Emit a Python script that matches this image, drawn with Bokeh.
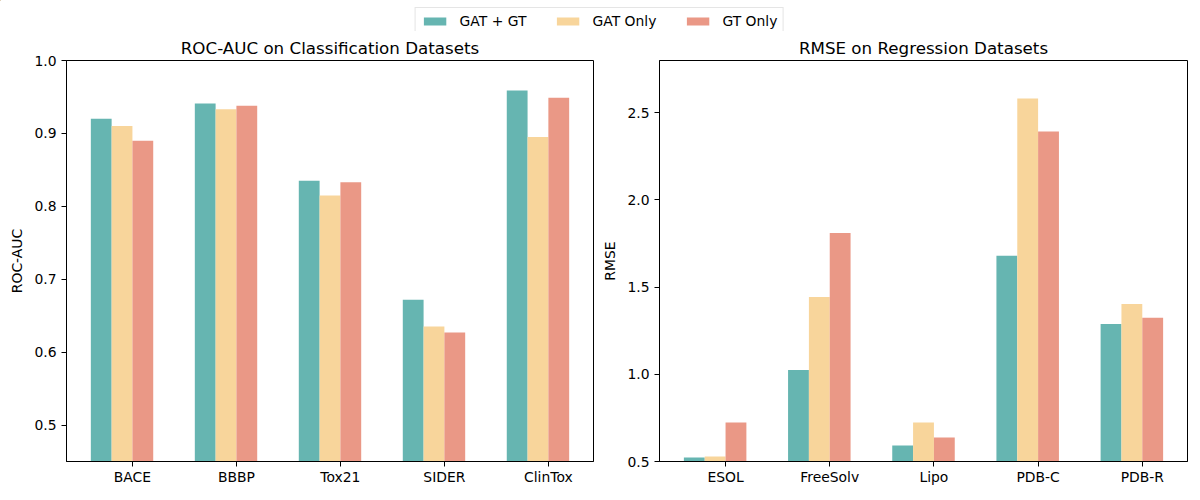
import numpy as np
from bokeh.plotting import figure
from bokeh.models import ColumnDataSource, FixedTicker, Legend, LegendItem, Range1d
from bokeh.layouts import column, row
from bokeh.transform import dodge
from bokeh.embed import file_html
from bokeh.resources import INLINE

# ---- data ----
cls_datasets = ["BACE", "BBBP", "Tox21", "SIDER", "ClinTox"]
cls_gat_gt = [0.920, 0.941, 0.835, 0.672, 0.959]
cls_gat_only = [0.910, 0.933, 0.815, 0.635, 0.895]
cls_gt_only = [0.890, 0.938, 0.833, 0.627, 0.949]

reg_datasets = ["ESOL", "FreeSolv", "Lipo", "PDB-C", "PDB-R"]
reg_gat_gt = [0.523, 1.025, 0.592, 1.680, 1.289]
reg_gat_only = [0.529, 1.444, 0.724, 2.582, 1.404]
reg_gt_only = [0.724, 1.810, 0.638, 2.393, 1.324]

cls_yticks = [0.5, 0.6, 0.7, 0.8, 0.9, 1.0]
reg_yticks = [0.5, 1.0, 1.5, 2.0, 2.5]

series_names = ["GAT + GT", "GAT Only", "GT Only"]
colors = ["#66b5b1", "#f8d59b", "#ea9886"]

FONT = "DejaVu Sans"
BAR_W = 0.2
ROW_H = 461
LEGEND_H = 31


def make_panel(title, cats, s0, s1, s2, ylabel, ylim, yticks, width, mbl, mbr):
    n = len(cats)
    x = np.arange(n)
    src = ColumnDataSource(dict(x=x, s0=s0, s1=s1, s2=s2))
    p = figure(width=width, height=ROW_H, toolbar_location=None, output_backend="svg",
               x_range=Range1d(-0.534, n - 1 + 0.534), y_range=Range1d(*ylim),
               min_border_left=mbl, min_border_right=mbr, min_border_top=29,
               min_border_bottom=31, title=title)
    for i, key in enumerate(["s0", "s1", "s2"]):
        p.vbar(x=dodge("x", (i - 1) * BAR_W), top=key, bottom=0, width=BAR_W,
               source=src, fill_color=colors[i], line_color=None)
    p.title.text_font = FONT
    p.title.text_font_size = "16.7px"
    p.title.text_font_style = "normal"
    p.title.text_color = "black"
    p.title.align = "center"
    p.title.standoff = 6
    p.grid.visible = False
    p.outline_line_color = "black"
    p.outline_line_alpha = 1
    p.outline_line_width = 1
    p.background_fill_color = "white"
    p.border_fill_color = "white"

    tick_pos = [float(i) + BAR_W / 2 for i in x]
    p.xaxis.ticker = FixedTicker(ticks=tick_pos)
    p.xaxis.major_label_overrides = {t: c for t, c in zip(tick_pos, cats)}
    p.xaxis.major_label_standoff = 2
    p.yaxis.ticker = FixedTicker(ticks=yticks)
    p.yaxis.major_label_overrides = {t: f"{t:.1f}" for t in yticks}
    p.yaxis.axis_label = ylabel
    for ax in (p.xaxis, p.yaxis):
        ax.axis_line_color = "black"
        ax.major_tick_line_color = "black"
        ax.major_tick_in = 0
        ax.major_tick_out = 5
        ax.minor_tick_line_color = None
        ax.major_label_text_font = FONT
        ax.major_label_text_font_size = "13.9px"
        ax.major_label_text_color = "black"
        ax.axis_label_text_font = FONT
        ax.axis_label_text_font_size = "13.9px"
        ax.axis_label_text_font_style = "normal"
        ax.axis_label_text_color = "black"
    p.yaxis.axis_label_standoff = 6
    return p, src


left, cls_src = make_panel("ROC-AUC on Classification Datasets", cls_datasets,
                           cls_gat_gt, cls_gat_only, cls_gt_only, "ROC-AUC",
                           (0.45, 1.0), cls_yticks, 598, 66, 5)
right, _ = make_panel("RMSE on Regression Datasets", reg_datasets,
                      reg_gat_gt, reg_gat_only, reg_gt_only, "RMSE",
                      (0.5, 2.8), reg_yticks, 600, 61, 11)

# ---- shared legend strip (its bars lie outside the visible ranges; only the legend shows) ----
lg = figure(width=1198, height=LEGEND_H, toolbar_location=None, output_backend="svg",
            x_range=Range1d(100, 101), y_range=Range1d(-200, -100), min_border=0,
            x_axis_location=None, y_axis_location=None)
lg.grid.visible = False
lg.outline_line_color = None
items = []
for i, (name, key) in enumerate(zip(series_names, ["s0", "s1", "s2"])):
    r = lg.vbar(x="x", top=key, bottom=0, width=BAR_W, source=cls_src,
                fill_color=colors[i], line_color=None)
    items.append(LegendItem(label=name, renderers=[r]))
legend = Legend(items=items, orientation="horizontal", location="top_center",
                glyph_width=28, glyph_height=10, label_standoff=11, spacing=27,
                padding=5, margin=7, label_height=14,
                label_text_font=FONT, label_text_font_size="13.9px",
                label_text_color="black",
                border_line_color="#cccccc", border_line_width=1,
                background_fill_alpha=0.8)
lg.add_layout(legend, "center")

layout = column(lg, row(left, right))
open("out.html", "w").write(file_html(layout, INLINE))
